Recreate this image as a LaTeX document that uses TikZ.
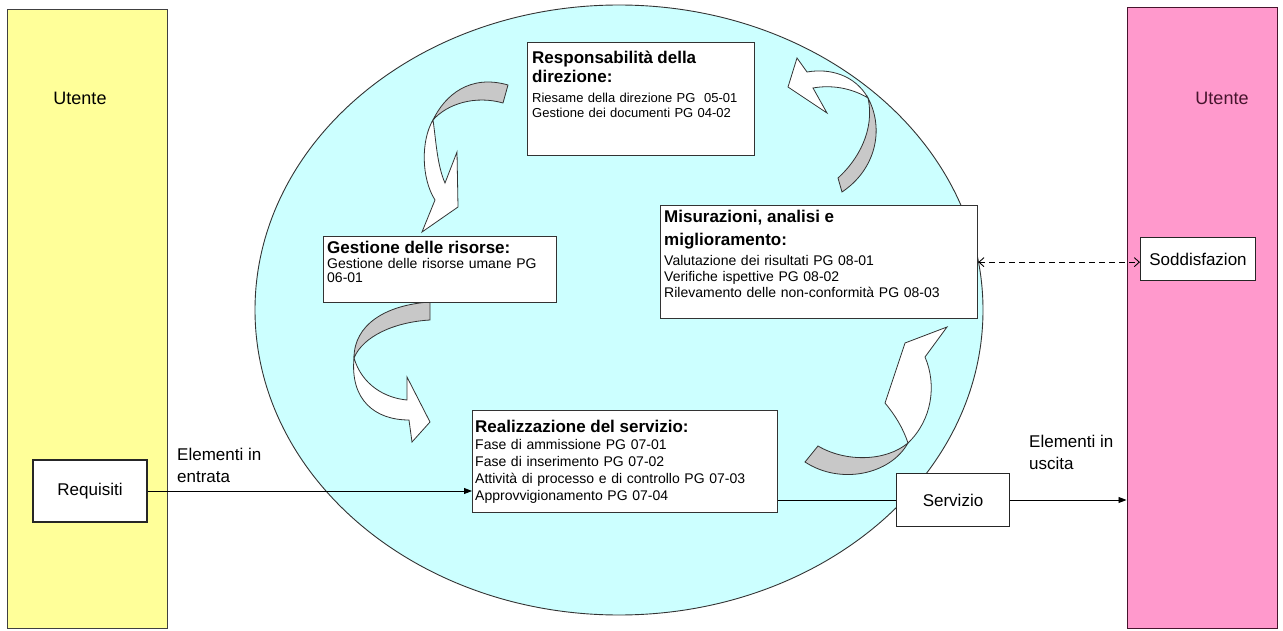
\documentclass[tikz,border=0pt]{standalone}
\usepackage{fontspec}
\setmainfont{Liberation Sans}
\usetikzlibrary{arrows.meta,positioning}
\definecolor{laneyellow}{RGB}{255,255,153}
\definecolor{lanepink}{RGB}{255,153,204}
\definecolor{cyclecyan}{RGB}{204,255,255}
\definecolor{twistgray}{RGB}{200,200,200}
\definecolor{plum}{RGB}{70,20,45}
\newcommand{\titlef}{\bfseries\fontsize{17}{19}\selectfont}
\begin{document}
\begin{tikzpicture}[x=1pt, y=-1pt,
    every node/.style={font=\fontsize{14}{17}\selectfont},
    lane/.style={draw=black!75, line width=1pt, minimum width=160pt,
      minimum height=618pt, inner sep=0pt},
    lanelbl/.style={font=\fontsize{18}{20}\selectfont},
    procbox/.style={draw=black!80, line width=1.3pt, fill=white,
      anchor=north west, inner sep=0pt},
    boxtext/.style={anchor=north west, inner sep=0pt, align=left},
    smallbox/.style={draw=black!85, line width=1.1pt, fill=white,
      font=\fontsize{17}{20}\selectfont},
    flowlbl/.style={anchor=north west, inner sep=0pt, align=left,
      font=\fontsize{17}{22}\selectfont},
    flow/.style={-{Triangle[length=8pt,width=6pt]}, line width=0.9pt},
    plain/.style={line width=0.9pt},
    feedback/.style={{Straight Barb[length=5pt,width=9pt]}-{Straight Barb[length=5pt,width=9pt]},
      dash pattern=on 6pt off 4pt, line width=0.9pt},
    bendback/.style={fill=twistgray, draw=black!80, line width=0.8pt},
    bendfront/.style={fill=white, draw=black!80, line width=0.8pt},
  ]
  \useasboundingbox (0,0) rectangle (1283,631);
  % user lanes
  \node[lane, fill=laneyellow] (uin) at (87,319) {};
  \node[lane, fill=lanepink, draw=plum, minimum width=150pt,
    minimum height=620pt] (uout) at (1202,318) {};
  \node[lanelbl] (uinlbl) at (80,98) {Utente};
  \node[lanelbl, text=plum] (uoutlbl) at (1222,98) {Utente};
  % process cycle
  \draw[black!80, line width=0.9pt, fill=cyclecyan] (619,310)
    ellipse [x radius=364pt, y radius=305pt];
  % twisted arrows (back gray, front white)
  \draw[bendback] (508,85) .. controls (470,74) and (445,95) .. (433,120)
    .. controls (447,104) and (475,95) .. (503,103) -- cycle;
  \draw[bendfront] (433,120) .. controls (421,140) and (421,178) .. (435,200)
    -- (422,232) -- (458,207) -- (457,152) -- (445,183)
    .. controls (437,165) and (436,140) .. (433,120) -- cycle;
  \draw[bendback] (430,302) .. controls (385,305) and (354,325) .. (354,358)
    .. controls (363,336) and (395,322) .. (430,320) -- cycle;
  \draw[bendfront] (354,358) .. controls (362,385) and (385,398) .. (407,400)
    -- (407,377) -- (430,422) -- (412,442) -- (409,420)
    .. controls (375,420) and (350,400) .. (354,358) -- cycle;
  \draw[bendback] (818,446) .. controls (845,462) and (885,462) .. (908,443)
    .. controls (890,475) and (840,485) .. (805,462) -- cycle;
  \draw[bendfront] (908,443) .. controls (932,420) and (937,385) .. (925,357)
    -- (947,327) -- (905,343) -- (885,403)
    .. controls (895,415) and (903,428) .. (908,443) -- cycle;
  \draw[bendback] (838,178) .. controls (858,160) and (875,130) .. (868,98)
    .. controls (885,130) and (875,170) .. (842,192) -- cycle;
  \draw[bendfront] (868,98) .. controls (855,75) and (830,68) .. (807,72)
    -- (797,58) -- (788,87) -- (827,113) -- (813,88)
    .. controls (835,84) and (855,90) .. (868,98) -- cycle;
  % process boxes
  \node[procbox, minimum width=227pt, minimum height=113pt] (resp) at (527,42) {};
  \node[boxtext, text width=220pt, font=\fontsize{13}{15}\selectfont] (resptxt)
    at ([xshift=5pt,yshift=-9pt]resp.north west)
    {{\titlef Responsabilità della\\direzione:\par}\vspace{5pt}%
     Riesame della direzione PG\ \ 05-01\\Gestione dei documenti PG 04-02};
  \node[procbox, minimum width=233pt, minimum height=66pt] (risorse) at (323,236) {};
  \node[boxtext, text width=226pt, font=\fontsize{14}{14}\selectfont] (risorsetxt)
    at ([xshift=4pt,yshift=-5pt]risorse.north west)
    {{\titlef Gestione delle risorse:\par}\vspace{1pt}%
     Gestione delle risorse umane PG\\06-01};
  \node[procbox, minimum width=317pt, minimum height=113pt] (misur) at (660,205) {};
  \node[boxtext, text width=310pt, font=\fontsize{14}{16}\selectfont] (misurtxt)
    at ([xshift=4pt,yshift=-5pt]misur.north west)
    {{\bfseries\fontsize{17}{23}\selectfont Misurazioni, analisi e\\miglioramento:\par}\vspace{4pt}%
     Valutazione dei risultati PG 08-01\\Verifiche ispettive PG 08-02\\
     Rilevamento delle non-conformità PG 08-03};
  \node[procbox, minimum width=305pt, minimum height=102pt] (realiz) at (472,410) {};
  \node[boxtext, text width=298pt, font=\fontsize{14}{17}\selectfont] (realiztxt)
    at ([xshift=3pt,yshift=-10pt]realiz.north west)
    {{\titlef Realizzazione del servizio:\par}%
     Fase di ammissione PG 07-01\\Fase di inserimento PG 07-02\\
     Attività di processo e di controllo PG 07-03\\Approvvigionamento PG 07-04};
  % inputs and outputs
  \node[smallbox, minimum width=114pt, minimum height=62pt] (req) at (90,491) {Requisiti};
  \node[smallbox, minimum width=113pt, minimum height=53pt] (serv) at (953,500) {Servizio};
  \node[smallbox, minimum width=115pt, minimum height=43pt] (sodd) at (1198,259) {Soddisfazion};
  \node[flowlbl] (inlbl) at (177,448) {Elementi in\\entrata};
  \node[flowlbl] (outlbl) at (1029,435) {Elementi in\\uscita};
  \draw[flow] (req.east) -- (req.east -| realiz.west);
  \draw[plain] (realiz.east |- serv.west) -- (serv.west);
  \draw[flow] (serv.east) -- (serv.east -| uout.west);
  \draw[feedback] (misur.east) -- (misur.east -| sodd.west);
\end{tikzpicture}
\end{document}
